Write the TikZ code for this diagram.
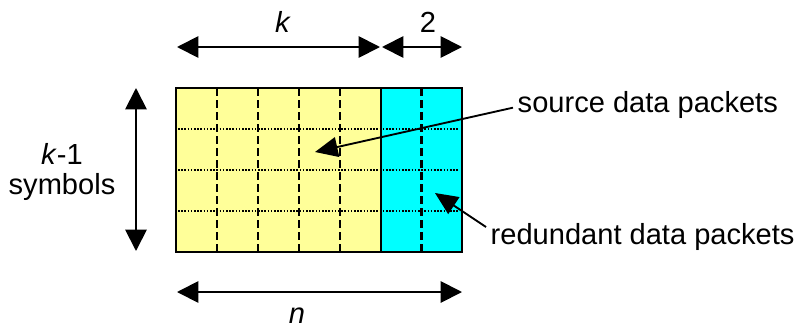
\documentclass[tikz,border=0pt]{standalone}
\usepackage{fontspec}
\setmainfont{Liberation Sans}
\usetikzlibrary{arrows.meta,positioning}
\definecolor{srcyellow}{HTML}{FFFF99}
\definecolor{redcyan}{HTML}{00FFFF}
\tikzset{
      dimarrow/.style={
        {Triangle[length=16pt,width=16pt]}-{Triangle[length=16pt,width=16pt]},
        line width=1.4pt
      },
      ptrarrow/.style={
        -{Triangle[length=17pt,width=15pt]},
        line width=1.4pt
      },
      colline/.style={
        line width=1.6pt,
        dash pattern=on 6pt off 3pt
      },
      rowline/.style={
        line width=1.4pt,
        dash pattern=on 1.2pt off 1.2pt
      },
      labeltext/.style={
        font=\fontsize{21.8}{23}\selectfont,
        align=center
      }
    }

\begin{document}
\begin{tikzpicture}[x=0.75pt,y=-0.75pt]
    \useasboundingbox (0,0) rectangle (798,329);
    % packet blocks
    \fill[srcyellow] (176,88) rectangle (381,252);
    \fill[redcyan] (381,88) rectangle (462,252);
    \foreach \xc in {217,258,299,340,421.5}
      \draw[colline] (\xc,88) -- (\xc,252);
    \foreach \yc in {129,170,211}
      \draw[rowline] (178,\yc) -- (458,\yc);
    \draw[line width=1.8pt] (176,88) rectangle (462,252);
    \draw[line width=1.8pt] (381,88) -- (381,252);
    % dimension marks
    \coordinate (kleft) at (177,47);
    \coordinate (kright) at (380,47);
    \coordinate (twoleft) at (382,47);
    \coordinate (tworight) at (462,47);
    \coordinate (rowtop) at (136,88);
    \coordinate (rowbot) at (136,251);
    \coordinate (nleft) at (177,292);
    \coordinate (nright) at (462,292);
    \draw[dimarrow] (kleft) -- (kright);
    \draw[dimarrow] (twoleft) -- (tworight);
    \draw[dimarrow] (rowtop) -- (rowbot);
    \draw[dimarrow] (nleft) -- (nright);
    \node[labeltext] (klabel) at (283,22) {\textit{k}};
    \node[labeltext] (twolabel) at (428,22) {2};
    \node[labeltext] (rowlabel) at (62,172) {\textit{k}-1\\symbols};
    \node[labeltext] (nlabel) at (297,316) {\textit{n}};
    % packet labels
    \node[labeltext, anchor=west] (srclabel) at (513,105) {source data packets};
    \node[labeltext, anchor=west] (redlabel) at (486,237) {redundant data packets};
    \coordinate (srcpt) at (315,152);
    \coordinate (redpt) at (435,193);
    \draw[ptrarrow] ([yshift=-2pt]srclabel.west) -- (srcpt);
    \draw[ptrarrow] ([yshift=7.5pt]redlabel.west) -- (redpt);
    \end{tikzpicture}
\end{document}
